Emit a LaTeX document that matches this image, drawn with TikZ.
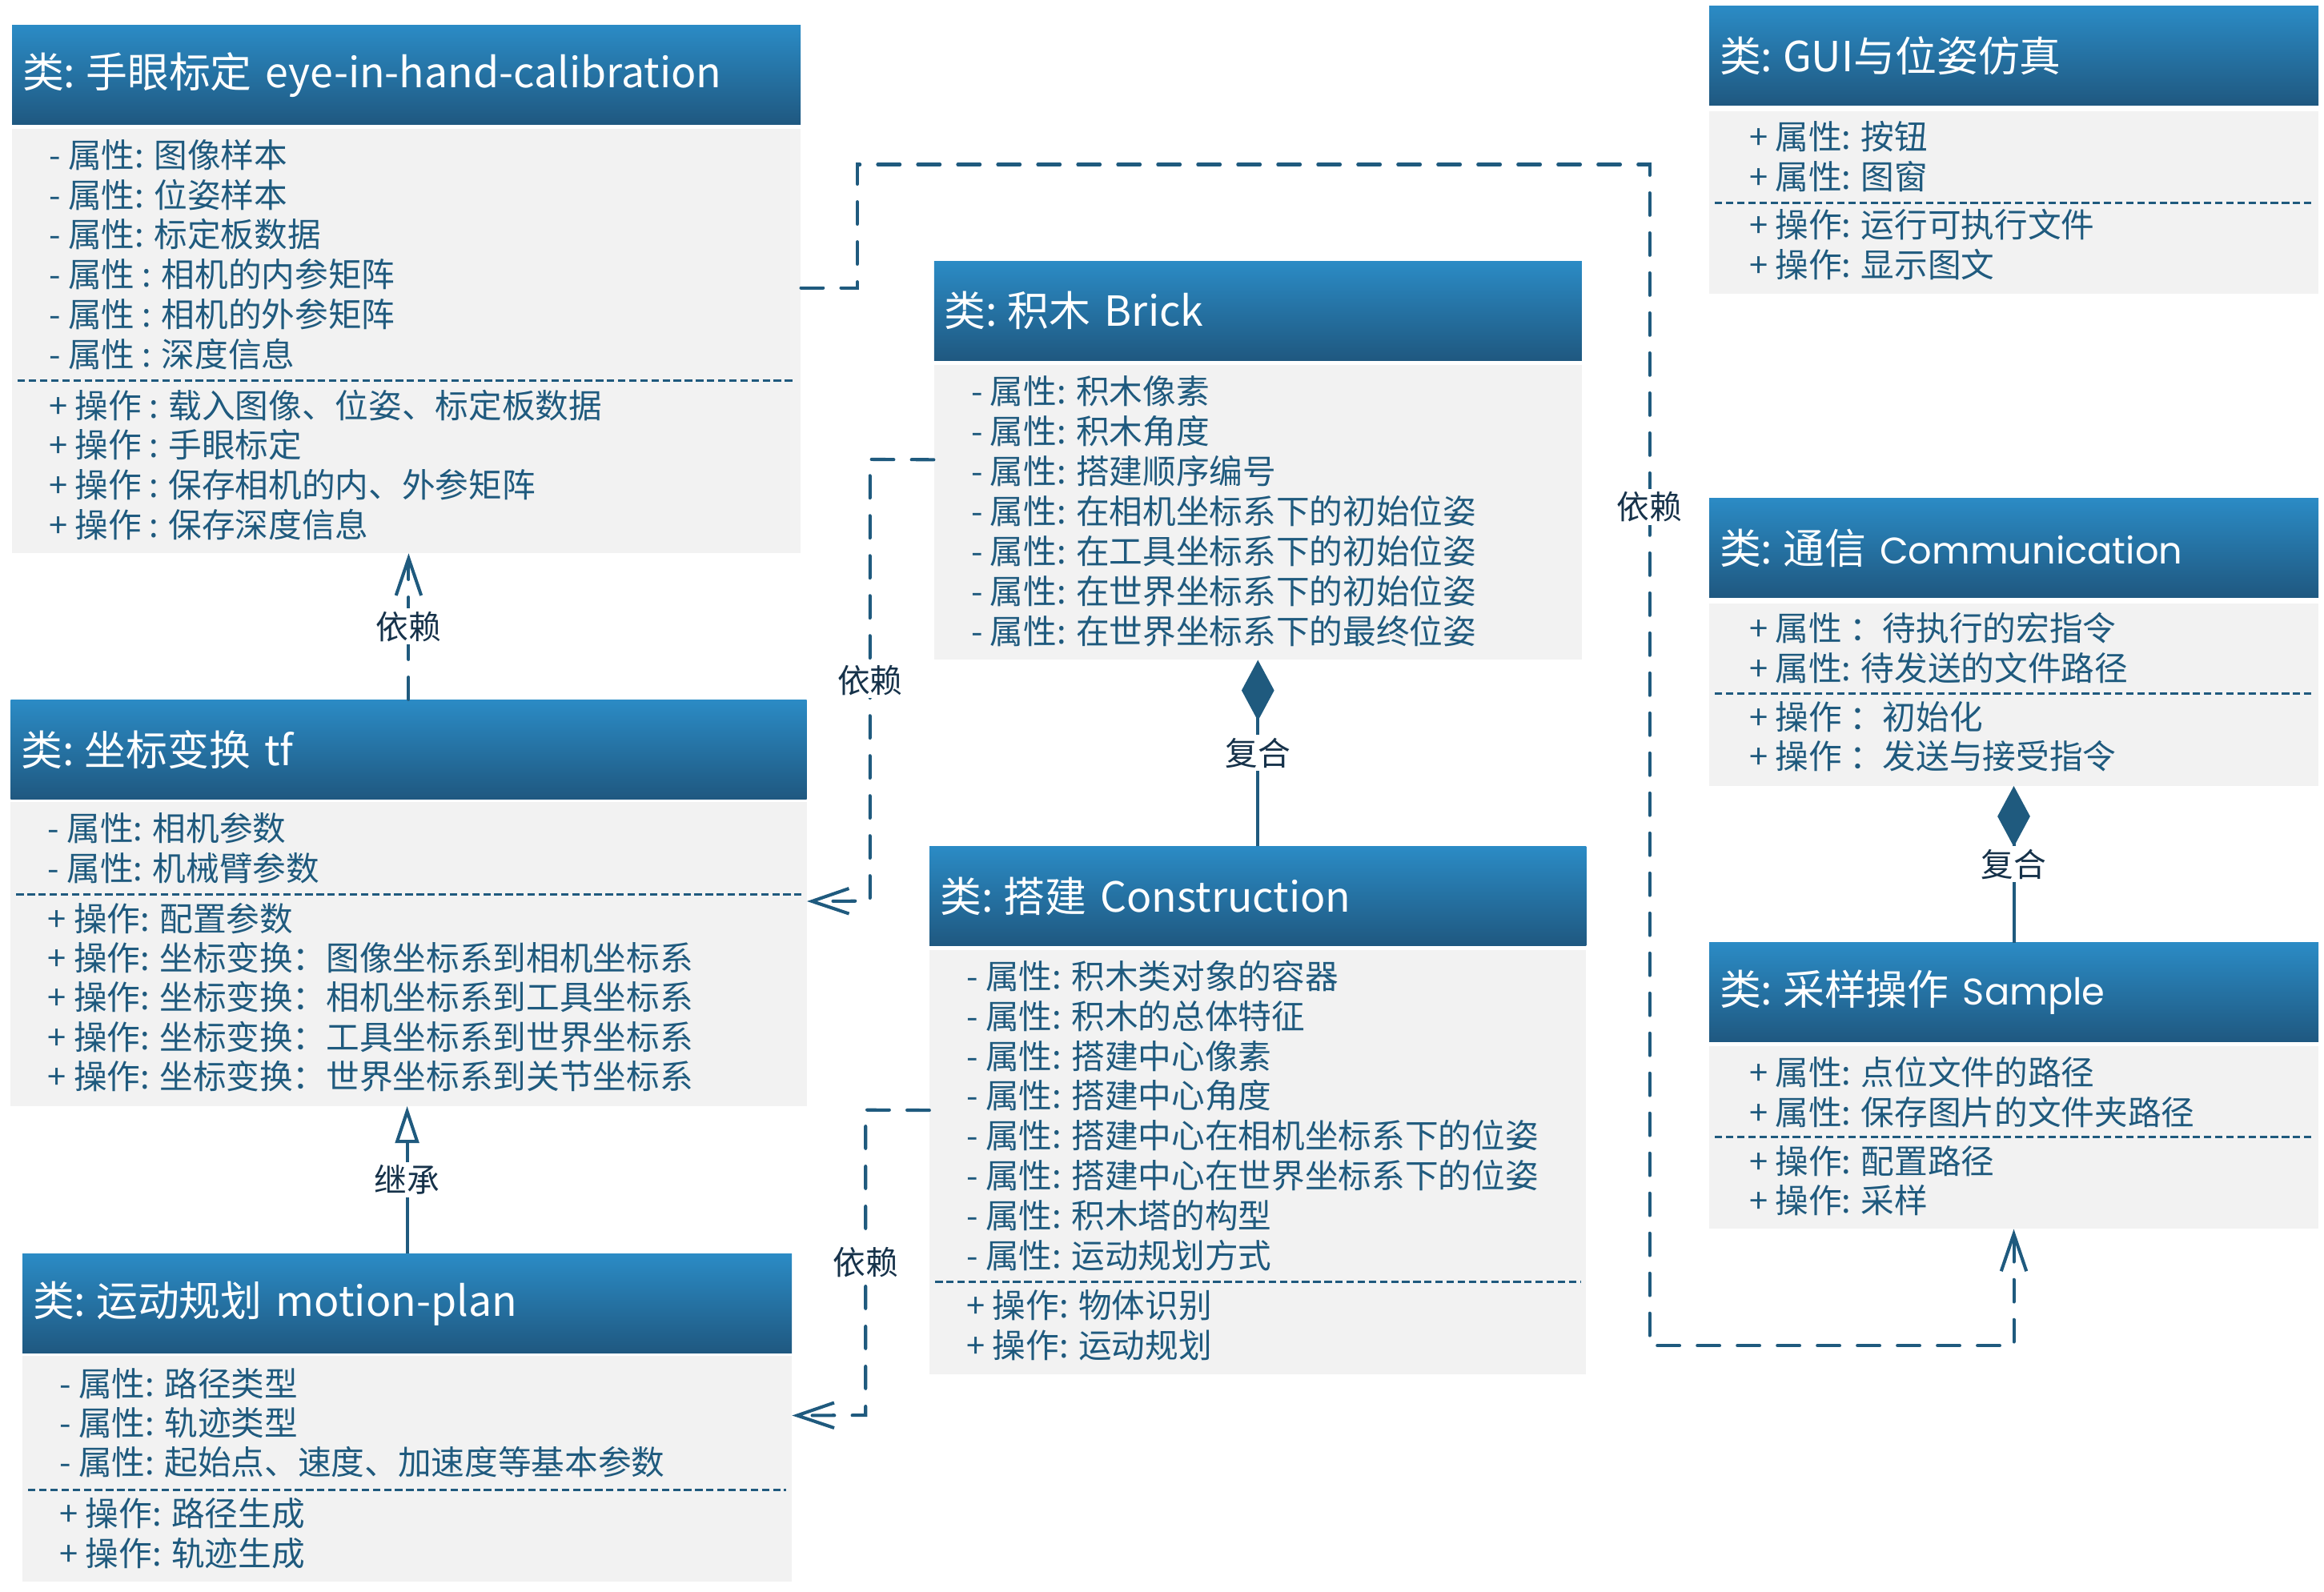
\documentclass[tikz,border=0pt]{standalone}
\usepackage{fontspec}
\setmainfont{Noto Sans CJK SC}
\newfontfamily\geofont{Poppins}
\usepackage{tikz}
\usetikzlibrary{arrows.meta, calc, positioning}

\definecolor{umlblue}{RGB}{31,90,126}
\definecolor{headtop}{RGB}{43,139,197}
\definecolor{headbot}{RGB}{31,88,128}
\definecolor{bodygray}{RGB}{242,242,242}
\definecolor{lbltext}{RGB}{22,50,74}

\begin{document}
\begin{tikzpicture}[x=1pt, y=-1pt]

\tikzset{
  % blue title bar of a class
  head/.style={rectangle, top color=headtop, bottom color=headbot, text=white,
    minimum height=67, inner xsep=7, text width=#1, align=left,
    font=\fontsize{28}{34}\selectfont, anchor=north west},
  % grey body of a class
  body/.style={rectangle, fill=bodygray, anchor=north west, inner sep=0},
  member/.style={anchor=base west, inner sep=0, text=umlblue,
    font=\fontsize{22.5}{27}\selectfont},
  sepline/.style={umlblue, line width=1.6pt, dash pattern=on 5pt off 2.5pt},
  % connectors
  depend/.style={umlblue, line width=2.2pt, line cap=round,
    dash pattern=on 15pt off 12pt, -{Straight Barb[length=25pt, width=17pt]}},
  inherit/.style={umlblue, line width=2.2pt, -{Triangle[open, length=25pt, width=16pt]}},
  compo/.style={umlblue, line width=2.2pt, {Diamond[length=41pt, width=22pt]}-},
  lbl/.style={fill=white, text=lbltext, inner sep=2pt, font=\fontsize{22}{26}\selectfont},
}

\useasboundingbox (0,0) rectangle (1568,1074);

% hand-eye calibration
\node[head=518] (calib-h) at (8,17) {类:\hspace{7pt}手眼标定 eye-in-hand-calibration};
\node[body, minimum width=532, minimum height=286] (calib) at (8,87) {};
\foreach \t [count=\i from 0] in {- 属性: 图像样本, - 属性: 位姿样本, - 属性: 标定板数据,
  - 属性 : 相机的内参矩阵, - 属性 : 相机的外参矩阵, - 属性 : 深度信息}
  \node[member] (calib-a\i) at (33,113+26.9*\i) {\t};
\draw[sepline] ($(calib.north west)+(4,170)$) -- ($(calib.north east)+(-4,170)$);
\foreach \t [count=\i from 0] in {+ 操作 : 载入图像、位姿、标定板数据, + 操作 : 手眼标定,
  + 操作 : 保存相机的内、外参矩阵, + 操作 : 保存深度信息}
  \node[member] (calib-o\i) at (33,282+26.9*\i) {\t};

% tf
\node[head=523] (tf-h) at (7,472) {类:\hspace{7pt}坐标变换 tf};
\node[body, minimum width=537, minimum height=205] (tf) at (7,541) {};
\foreach \t [count=\i from 0] in {- 属性: 相机参数, - 属性: 机械臂参数}
  \node[member] (tf-a\i) at (32,567.5+26.9*\i) {\t};
\draw[sepline] ($(tf.north west)+(4,62.5)$) -- ($(tf.north east)+(-4,62.5)$);
\foreach \t [count=\i from 0] in {+ 操作: 配置参数,
  + 操作: 坐标变换：图像坐标系到相机坐标系, + 操作: 坐标变换：相机坐标系到工具坐标系,
  + 操作: 坐标变换：工具坐标系到世界坐标系, + 操作: 坐标变换：世界坐标系到关节坐标系}
  \node[member] (tf-o\i) at (32,628.2+26.7*\i) {\t};

% motion plan
\node[head=505] (motion-h) at (15,846) {类:\hspace{7pt}运动规划 motion-plan};
\node[body, minimum width=519, minimum height=152] (motion) at (15,915) {};
\foreach \t [count=\i from 0] in {- 属性: 路径类型, - 属性: 轨迹类型,
  - 属性: 起始点、速度、加速度等基本参数}
  \node[member] (motion-a\i) at (40,942+26.7*\i) {\t};
\draw[sepline] ($(motion.north west)+(4,90.5)$) -- ($(motion.north east)+(-4,90.5)$);
\foreach \t [count=\i from 0] in {+ 操作: 路径生成, + 操作: 轨迹生成}
  \node[member] (motion-o\i) at (40,1030+26.7*\i) {\t};

% brick
\node[head=423] (brick-h) at (630,176) {类:\hspace{7pt}积木 Brick};
\node[body, minimum width=437, minimum height=199] (brick) at (630,246) {};
\foreach \t [count=\i from 0] in {- 属性: 积木像素, - 属性: 积木角度, - 属性: 搭建顺序编号,
  - 属性: 在相机坐标系下的初始位姿, - 属性: 在工具坐标系下的初始位姿,
  - 属性: 在世界坐标系下的初始位姿, - 属性: 在世界坐标系下的最终位姿}
  \node[member] (brick-a\i) at (655,272.3+27*\i) {\t};

% construction
\node[head=429] (constr-h) at (627,571) {类:\hspace{7pt}搭建 Construction};
\node[body, minimum width=443, minimum height=286] (constr) at (627,641) {};
\foreach \t [count=\i from 0] in {- 属性: 积木类对象的容器, - 属性: 积木的总体特征,
  - 属性: 搭建中心像素, - 属性: 搭建中心角度, - 属性: 搭建中心在相机坐标系下的位姿,
  - 属性: 搭建中心在世界坐标系下的位姿, - 属性: 积木塔的构型, - 属性: 运动规划方式}
  \node[member] (constr-a\i) at (652,667.2+26.95*\i) {\t};
\draw[sepline] ($(constr.north west)+(4,224)$) -- ($(constr.north east)+(-4,224)$);
\foreach \t [count=\i from 0] in {+ 操作: 物体识别, + 操作: 运动规划}
  \node[member] (constr-o\i) at (652,889.4+26.9*\i) {\t};

% GUI
\node[head=397] (gui-h) at (1153,4) {类:\hspace{7pt}GUI与位姿仿真};
\node[body, minimum width=411, minimum height=123] (gui) at (1153,75) {};
\foreach \t [count=\i from 0] in {+ 属性: 按钮, + 属性: 图窗}
  \node[member] (gui-a\i) at (1180,100.7+27*\i) {\t};
\draw[sepline] ($(gui.north west)+(4,62)$) -- ($(gui.north east)+(-4,62)$);
\foreach \t [count=\i from 0] in {+ 操作: 运行可执行文件, + 操作: 显示图文}
  \node[member] (gui-o\i) at (1180,160+27*\i) {\t};

% communication
\node[head=397] (comm-h) at (1153,336) {类:\hspace{7pt}通信 {\geofont\fontsize{25}{30}\selectfont Communication}};
\node[body, minimum width=411, minimum height=123] (comm) at (1153,407) {};
\foreach \t [count=\i from 0] in {+ 属性 ：待执行的宏指令, + 属性: 待发送的文件路径}
  \node[member] (comm-a\i) at (1180,432.6+27*\i) {\t};
\draw[sepline] ($(comm.north west)+(4,61)$) -- ($(comm.north east)+(-4,61)$);
\foreach \t [count=\i from 0] in {+ 操作 ：初始化, + 操作 ：发送与接受指令}
  \node[member] (comm-o\i) at (1180,492.3+26.7*\i) {\t};

% sample
\node[head=397] (sample-h) at (1153,636) {类:\hspace{7pt}采样操作 {\geofont\fontsize{25}{30}\selectfont Sample}};
\node[body, minimum width=411, minimum height=123] (sample) at (1153,706) {};
\foreach \t [count=\i from 0] in {+ 属性: 点位文件的路径, + 属性: 保存图片的文件夹路径}
  \node[member] (sample-a\i) at (1180,732.3+26.9*\i) {\t};
\draw[sepline] ($(sample.north west)+(4,61.5)$) -- ($(sample.north east)+(-4,61.5)$);
\foreach \t [count=\i from 0] in {+ 操作: 配置路径, + 操作: 采样}
  \node[member] (sample-o\i) at (1180,792+26.5*\i) {\t};

% relations
\draw[depend] (tf-h.north) -- (tf-h.north |- calib.south) node[lbl, midway] {依赖};
\draw[inherit] (motion-h.north) -- (motion-h.north |- tf.south) node[lbl, midway] {继承};
\draw[depend] ([yshift=36pt]calib.east) -- ++(38,0) |- (1113,111)
  -- (1113,908) node[lbl, pos=0.29] {依赖} -| (sample.south);
\draw[depend] ([yshift=35.5pt]brick.west) -- (587,310)
  -- (587,608) node[lbl, midway] {依赖} -- ([yshift=35.5pt]tf.east);
\draw[depend] ([yshift=35pt]constr.west) -- (584,749)
  -- (584,955) node[lbl, midway] {依赖} -- ([yshift=36pt]motion.east);
\draw[compo] (brick.south) -- (constr-h.north) node[lbl, midway] {复合};
\draw[compo] (comm.south) -- (sample-h.north) node[lbl, midway] {复合};

\end{tikzpicture}
\end{document}
